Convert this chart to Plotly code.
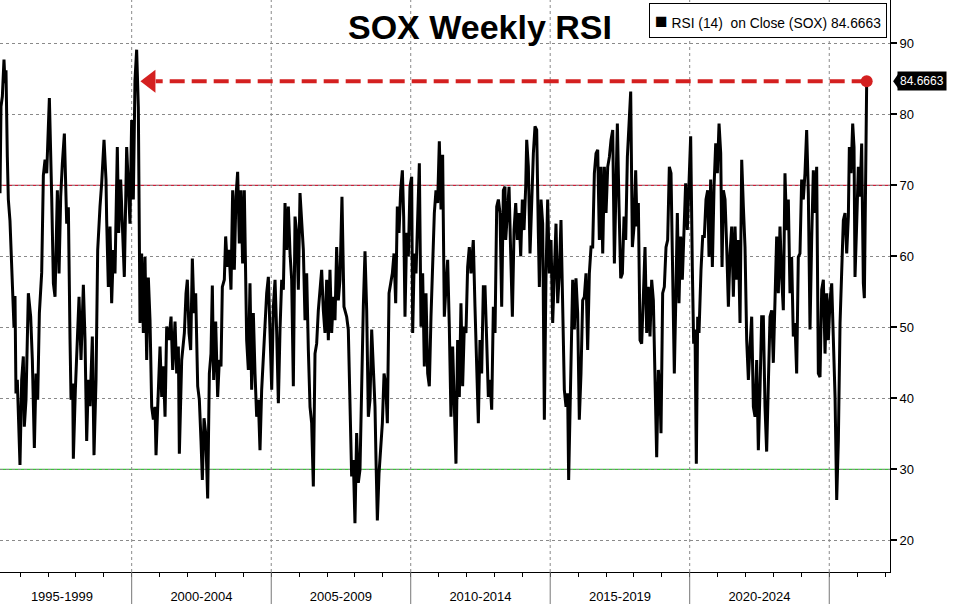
import plotly.graph_objects as go
from datetime import datetime

# ---------------- data ----------------
rsi_years = [
    1995.280, 1995.316, 1995.364, 1995.423, 1995.459, 1995.495, 1995.543, 1995.579, 1995.638, 1995.734,
    1995.782, 1995.818, 1995.853, 1995.901, 1995.937, 1995.997, 1996.057, 1996.116, 1996.152, 1996.212,
    1996.296, 1996.379, 1996.439, 1996.511, 1996.570, 1996.630, 1996.690, 1996.773, 1996.833, 1996.893,
    1996.953, 1997.048, 1997.132, 1997.192, 1997.251, 1997.335, 1997.395, 1997.454, 1997.514, 1997.586,
    1997.669, 1997.729, 1997.789, 1997.825, 1997.885, 1997.908, 1997.980, 1998.052, 1998.112, 1998.183,
    1998.267, 1998.327, 1998.386, 1998.446, 1998.506, 1998.589, 1998.649, 1998.721, 1998.781, 1998.864,
    1998.924, 1999.008, 1999.079, 1999.103, 1999.163, 1999.223, 1999.282, 1999.342, 1999.402, 1999.485,
    1999.533, 1999.605, 1999.665, 1999.736, 1999.820, 1999.880, 1999.939,
    1999.999, 2000.059, 2000.118, 2000.178, 2000.238, 2000.274, 2000.298, 2000.357, 2000.417, 2000.477,
    2000.537, 2000.596, 2000.656, 2000.716, 2000.776, 2000.835, 2000.871, 2000.931, 2001.014, 2001.074,
    2001.134, 2001.194, 2001.253, 2001.337, 2001.409, 2001.468, 2001.552, 2001.612, 2001.672, 2001.707,
    2001.791, 2001.887, 2001.946, 2001.994, 2002.054, 2002.114, 2002.173, 2002.233, 2002.293, 2002.365,
    2002.424, 2002.484, 2002.532, 2002.592, 2002.651, 2002.723, 2002.783, 2002.842, 2002.890, 2002.938,
    2003.010, 2003.081, 2003.141, 2003.201, 2003.249, 2003.320, 2003.368, 2003.428, 2003.488, 2003.559,
    2003.619, 2003.679, 2003.738, 2003.798, 2003.858, 2003.918, 2003.977, 2004.037, 2004.121, 2004.181,
    2004.240, 2004.300, 2004.360, 2004.420,
    2004.479, 2004.539, 2004.598, 2004.658, 2004.718, 2004.778, 2004.837, 2004.897, 2004.957, 2005.017,
    2005.076, 2005.136, 2005.196, 2005.256, 2005.315, 2005.375, 2005.435, 2005.494, 2005.554, 2005.614,
    2005.674, 2005.733, 2005.793, 2005.853, 2005.913, 2005.972, 2006.032, 2006.092, 2006.152, 2006.211,
    2006.271, 2006.331, 2006.391, 2006.450, 2006.510, 2006.570, 2006.629, 2006.689, 2006.749, 2006.809,
    2006.868, 2006.928, 2006.988, 2007.048, 2007.107, 2007.167, 2007.227, 2007.287, 2007.346, 2007.406,
    2007.466, 2007.537, 2007.609, 2007.705, 2007.764, 2007.824, 2007.884, 2007.944, 2008.003, 2008.063,
    2008.123, 2008.183, 2008.242, 2008.302, 2008.362, 2008.422, 2008.481, 2008.541, 2008.601, 2008.661,
    2008.720,
    2008.756, 2008.804, 2008.863, 2008.923, 2008.983, 2009.043, 2009.102, 2009.162, 2009.222, 2009.282,
    2009.341, 2009.401, 2009.461, 2009.520, 2009.580, 2009.640, 2009.700, 2009.747, 2009.795, 2009.855,
    2009.915, 2009.974, 2010.034, 2010.070, 2010.130, 2010.190, 2010.249, 2010.309, 2010.369, 2010.428,
    2010.488, 2010.548, 2010.608, 2010.667, 2010.727, 2010.787, 2010.847, 2010.906, 2010.966, 2011.026,
    2011.086, 2011.145, 2011.205, 2011.265, 2011.325, 2011.384, 2011.444, 2011.504, 2011.563, 2011.623,
    2011.683, 2011.743, 2011.802, 2011.862, 2011.922, 2011.982, 2012.041, 2012.101, 2012.161, 2012.244,
    2012.304, 2012.364, 2012.424, 2012.483, 2012.543, 2012.603, 2012.663, 2012.722, 2012.782, 2012.842,
    2012.902, 2012.961, 2013.021, 2013.081, 2013.141, 2013.200, 2013.260, 2013.320, 2013.379,
    2013.404, 2013.464, 2013.524, 2013.583, 2013.643, 2013.703, 2013.763, 2013.822, 2013.882, 2013.942,
    2014.001, 2014.061, 2014.121, 2014.157, 2014.217, 2014.276, 2014.336, 2014.396, 2014.455, 2014.515,
    2014.575, 2014.611, 2014.671, 2014.730, 2014.790, 2014.850, 2014.909, 2014.969, 2015.029, 2015.089,
    2015.148, 2015.208, 2015.268, 2015.328, 2015.387, 2015.447, 2015.507, 2015.567, 2015.626, 2015.662,
    2015.710, 2015.770, 2015.806, 2015.865, 2015.925, 2015.985, 2016.044, 2016.104, 2016.164, 2016.224,
    2016.283, 2016.343, 2016.403, 2016.463, 2016.522, 2016.582, 2016.642, 2016.702, 2016.761, 2016.821,
    2016.881, 2016.940, 2017.000, 2017.060, 2017.120, 2017.179, 2017.239, 2017.299, 2017.359, 2017.406,
    2017.466, 2017.526, 2017.586, 2017.645, 2017.705, 2017.765,
    2017.884, 2017.944, 2018.004, 2018.063, 2018.111, 2018.159, 2018.219, 2018.278, 2018.338, 2018.398,
    2018.458, 2018.517, 2018.577, 2018.637, 2018.697, 2018.756, 2018.816, 2018.876, 2018.935, 2018.971,
    2019.031, 2019.091, 2019.151, 2019.210, 2019.270, 2019.330, 2019.389, 2019.449, 2019.497, 2019.557,
    2019.616, 2019.676, 2019.736, 2019.796, 2019.855, 2019.915, 2019.975, 2020.035, 2020.094, 2020.142,
    2020.190, 2020.238, 2020.286, 2020.333, 2020.405, 2020.465, 2020.524, 2020.584, 2020.644, 2020.692,
    2020.751, 2020.811, 2020.871, 2020.931, 2020.990, 2021.050, 2021.110, 2021.158, 2021.205, 2021.265,
    2021.325, 2021.385, 2021.444, 2021.504, 2021.564, 2021.624, 2021.683, 2021.743, 2021.803, 2021.863,
    2021.922, 2021.982, 2022.042, 2022.102, 2022.161, 2022.221, 2022.281, 2022.341,
    2022.400, 2022.460, 2022.519, 2022.579, 2022.639, 2022.699, 2022.758, 2022.818, 2022.878, 2022.938,
    2022.997, 2023.057, 2023.117, 2023.177, 2023.236, 2023.296, 2023.356, 2023.415, 2023.475, 2023.535,
    2023.595, 2023.654, 2023.714, 2023.774, 2023.834, 2023.893, 2023.953, 2024.013, 2024.073, 2024.132,
    2024.192, 2024.252, 2024.312, 2024.371, 2024.431, 2024.491, 2024.550, 2024.610, 2024.670, 2024.730,
    2024.789, 2024.849, 2024.909, 2024.969, 2025.028, 2025.088, 2025.148, 2025.208, 2025.267, 2025.327,
    2025.387, 2025.446, 2025.506, 2025.566, 2025.626, 2025.685, 2025.721, 2025.781, 2025.841, 2025.889,
    2025.924, 2025.984, 2026.044, 2026.104, 2026.163, 2026.223, 2026.259, 2026.343,
]

rsi_values = [
    68.9, 81.1, 82.5, 87.7, 84.4, 86.2, 74.0, 68.0, 65.0, 54.8,
    50.0, 54.4, 40.7, 42.6, 36.5, 30.6, 42.6, 45.9, 36.0, 39.8,
    54.8, 51.5, 45.4, 33.0, 43.5, 39.8, 52.0, 57.7, 71.4, 73.6,
    71.7, 82.3, 68.3, 56.2, 54.3, 69.3, 57.6, 68.4, 73.1, 77.3,
    64.6, 66.9, 48.2, 39.8, 42.1, 31.5, 41.2, 48.2, 54.3, 45.4,
    56.0, 48.2, 34.0, 42.6, 38.9, 48.7, 32.0, 42.6, 60.9, 67.0,
    70.3, 76.4, 70.8, 65.1, 55.7, 64.2, 53.4, 60.9, 57.6, 75.4,
    63.3, 70.8, 63.3, 57.1, 75.4, 69.8, 64.6,
    79.2, 68.0, 84.8, 89.1, 81.0, 62.3, 50.6, 60.4, 49.2, 59.9,
    45.4, 57.0, 51.0, 38.8, 37.0, 38.8, 32.0, 38.8, 47.3, 40.2,
    44.5, 37.4, 50.1, 48.2, 51.5, 44.0, 50.8, 43.5, 47.3, 32.2,
    45.4, 49.2, 54.8, 56.7, 49.2, 46.8, 59.7, 52.0, 54.8, 41.7,
    39.8, 34.0, 28.5, 37.2, 35.1, 25.9, 43.5, 46.3, 55.9, 42.6,
    50.8, 40.2, 45.4, 44.5, 55.7, 56.7, 62.8, 58.5, 60.9, 55.3,
    69.3, 58.1, 68.4, 71.9, 61.8, 69.3, 59.0, 69.3, 48.2, 44.0,
    56.2, 41.2, 52.0, 43.5,
    37.4, 39.8, 32.7, 41.2, 45.4, 49.7, 54.8, 57.1, 50.6, 41.2,
    52.9, 56.7, 49.2, 39.3, 49.7, 56.7, 55.3, 67.5, 60.9, 67.0,
    60.4, 56.7, 41.7, 65.6, 63.3, 55.3, 68.9, 64.2, 60.9, 51.0,
    57.6, 46.8, 38.8, 36.5, 27.6, 46.3, 47.7, 52.4, 54.8, 58.1,
    52.4, 49.2, 56.7, 48.2, 58.1, 49.2, 54.3, 51.0, 61.3, 53.8,
    56.7, 68.4, 52.9, 51.5, 49.7, 36.5, 29.0, 31.3, 22.4, 35.1,
    28.1, 30.0, 43.5, 52.9, 60.7, 52.4, 37.4, 39.8, 49.7, 43.5,
    38.8,
    31.3, 22.8, 29.4, 33.7, 36.5, 43.5, 42.1, 36.5, 54.8, 56.2,
    57.6, 60.4, 53.4, 67.0, 63.3, 69.3, 72.1, 65.6, 51.5, 63.3,
    60.0, 69.8, 71.2, 49.2, 60.4, 57.6, 67.0, 73.1, 50.1, 57.6,
    44.5, 54.8, 43.5, 41.7, 51.5, 60.4, 66.1, 69.3, 67.5, 76.2,
    66.6, 74.3, 51.5, 55.7, 59.5, 50.1, 37.4, 47.3, 37.4, 30.8,
    48.2, 40.2, 53.4, 41.7, 50.1, 49.2, 58.5, 61.3, 57.6, 62.3,
    52.9, 43.5, 36.5, 48.2, 43.5, 55.7, 55.7, 48.2, 40.2, 42.6,
    38.4, 52.9, 49.2, 67.0, 68.0, 66.1, 52.9, 69.3, 69.8,
    62.3, 66.1, 69.8, 60.4, 51.5, 63.7, 67.5, 62.3, 66.1, 60.0,
    68.0, 63.7, 69.8, 76.4, 72.6, 60.4, 69.3, 74.5, 78.3, 77.8,
    63.3, 55.7, 68.0, 64.6, 37.0, 57.6, 68.0, 57.6, 62.3, 50.6,
    57.6, 64.6, 53.4, 57.6, 65.1, 54.8, 41.2, 38.8, 40.7, 28.5,
    36.5, 49.2, 56.7, 49.7, 56.9, 52.0, 37.0, 43.5, 53.8, 54.3,
    57.6, 46.8, 57.6, 61.3, 61.3, 71.7, 74.5, 75.0, 62.3, 72.6,
    60.4, 72.6, 66.1, 72.6, 74.0, 76.4, 77.8, 59.0, 72.6, 78.7,
    67.0, 56.9, 57.6, 65.6, 62.3, 74.0,
    83.2, 61.3, 64.2, 72.1, 64.2, 67.5, 48.2, 47.7, 54.3, 61.3,
    49.2, 55.7, 48.7, 56.7, 53.8, 43.5, 31.7, 44.0, 40.7, 35.1,
    54.8, 55.7, 61.3, 62.3, 72.6, 71.7, 55.7, 43.5, 52.9, 66.1,
    53.4, 62.8, 56.7, 63.3, 70.3, 63.7, 70.8, 76.9, 58.5, 47.7,
    49.7, 30.8, 51.5, 49.2, 58.1, 62.8, 62.8, 68.0, 69.3, 59.9,
    70.8, 58.5, 69.8, 75.9, 71.7, 78.7, 74.5, 58.5, 69.3, 68.0,
    61.3, 52.9, 60.4, 64.2, 54.3, 64.2, 56.7, 62.3, 50.6, 73.6,
    67.0, 61.3, 48.2, 42.6, 47.3, 51.5, 38.8, 37.4,
    45.4, 32.7, 41.2, 51.5, 51.5, 38.8, 32.5, 41.2, 51.5, 52.4,
    45.0, 53.8, 62.8, 54.8, 64.2, 57.1, 52.4, 71.7, 63.7, 68.0,
    54.8, 59.9, 48.7, 50.6, 43.5, 59.9, 60.4, 70.8, 68.0, 71.7,
    77.8, 68.9, 49.7, 62.3, 72.1, 66.1, 72.6, 43.5, 43.0, 55.3,
    56.7, 46.3, 54.8, 48.2, 53.8, 56.2, 49.2, 40.2, 25.7, 34.1,
    50.6, 57.6, 65.1, 66.1, 60.4, 65.6, 75.4, 71.7, 78.7, 75.4,
    57.1, 64.6, 72.6, 68.4, 75.9, 56.2, 54.1, 84.6663,
]

last_value = 84.6663
period_labels = ["1995-1999", "2000-2004", "2005-2009", "2010-2014", "2015-2019", "2020-2024"]
period_starts = [1995, 2000, 2005, 2010, 2015, 2020, 2025]
y_ticks = [20, 30, 40, 50, 60, 70, 80, 90]
overbought = 70
oversold = 30
title_text = "SOX Weekly RSI"
legend_text = "RSI (14)\u00a0\u00a0on Close (SOX) 84.6663"


def dec_to_date(y):
    yr = int(y)
    start = datetime(yr, 1, 1)
    end = datetime(yr + 1, 1, 1)
    return start + (end - start) * (y - yr)


dates = [dec_to_date(v) for v in rsi_years]
last_date = dates[-1]

# ---------------- styling constants ----------------
RED = "#d42020"
x_range = [dec_to_date(1995.280), dec_to_date(2027.179)]
y_range = [15.54, 96.10]
arrow_head_year = 2000.67
arrow_tail_year = 2000.86
FONT = "Liberation Sans"

fig = go.Figure()

# RSI line
fig.add_trace(go.Scatter(
    x=dates, y=rsi_values, mode="lines",
    line=dict(color="black", width=3), hoverinfo="skip", showlegend=False,
))

# dashed arrow from last value back to the 2000 peak
fig.add_trace(go.Scatter(
    x=[last_date, dec_to_date(arrow_tail_year)], y=[last_value, last_value],
    mode="lines", line=dict(color=RED, width=4, dash="15px,7px"),
    hoverinfo="skip", showlegend=False,
))
fig.add_trace(go.Scatter(
    x=[dec_to_date(arrow_head_year)], y=[last_value], mode="markers",
    marker=dict(symbol="triangle-left", size=20, color=RED, line=dict(width=0)),
    hoverinfo="skip", showlegend=False, cliponaxis=False,
))
fig.add_trace(go.Scatter(
    x=[last_date], y=[last_value], mode="markers",
    marker=dict(symbol="circle", size=12, color=RED, line=dict(width=0)),
    hoverinfo="skip", showlegend=False, cliponaxis=False,
))

shapes = []
# 70 / 30 reference lines
shapes.append(dict(type="line", xref="paper", x0=0, x1=1, yref="y", y0=overbought, y1=overbought,
                   line=dict(color="#cc1f3a", width=1.2), layer="below"))
shapes.append(dict(type="line", xref="paper", x0=0, x1=1, yref="y", y0=oversold, y1=oversold,
                   line=dict(color="#3cc43c", width=1.2), layer="below"))
# period separators (dotted in plot, solid below axis)
for yr in period_starts[1:]:
    d = dec_to_date(yr)
    shapes.append(dict(type="line", xref="x", x0=d, x1=d, yref="paper", y0=0, y1=1,
                       line=dict(color="#8a8a8a", width=1, dash="dot"), layer="below"))
    shapes.append(dict(type="line", xref="x", x0=d, x1=d, yref="paper", y0=0, y1=-0.06,
                       line=dict(color="#777777", width=1)))
# pointer of last-value badge
shapes.append(dict(type="path", xref="paper", yref="y",
                   path=f"M 1.0035,{last_value} L 1.0105,{last_value + 1.25} L 1.0105,{last_value - 1.25} Z",
                   fillcolor="black", line=dict(width=0)))

mid_ticks = [dec_to_date(s + 2.5) for s in period_starts[:-1]]
minor_ticks = [datetime(y, 1, 1) for y in range(1996, 2028)]

annotations = [
    dict(text=f"<b>{title_text}</b>", xref="paper", yref="paper", x=0.539, y=0.952,
         xanchor="center", yanchor="middle", showarrow=False,
         font=dict(family=FONT, size=34, color="black")),
    dict(text="<span style='font-size:21px'>\u25A0</span> " + legend_text,
         xref="paper", yref="paper", x=0.9966, y=0.9948, xanchor="right", yanchor="top",
         showarrow=False, bordercolor="black", borderwidth=1, borderpad=5, bgcolor="white",
         font=dict(family=FONT, size=13.8, color="black")),
    dict(text=f"{last_value:.4f}", xref="paper", yref="y", x=1, y=last_value,
         xanchor="left", yanchor="middle", xshift=7, showarrow=False,
         bgcolor="black", borderpad=2, font=dict(family=FONT, size=12, color="white")),
]

fig.update_layout(
    width=961, height=604,
    margin=dict(l=0, r=71, t=0, b=32),
    paper_bgcolor="white", plot_bgcolor="white",
    shapes=shapes, annotations=annotations,
    showlegend=False,
    xaxis=dict(
        type="date", range=x_range, tickmode="array", tickvals=mid_ticks, ticktext=period_labels,
        ticks="", showgrid=False, zeroline=False, showline=True, linecolor="black", linewidth=1,
        tickfont=dict(family=FONT, size=13, color="black"), ticklabelstandoff=12,
        minor=dict(tickmode="array", tickvals=minor_ticks, ticks="outside", ticklen=4,
                   tickcolor="black", tickwidth=1, showgrid=False),
    ),
    yaxis=dict(
        side="right", range=y_range, tickmode="array", tickvals=y_ticks,
        ticks="outside", ticklen=6, tickwidth=2, tickcolor="black",
        showgrid=True, gridcolor="#8a8a8a", griddash="dot", gridwidth=1,
        zeroline=False, showline=True, linecolor="black", linewidth=1,
        tickfont=dict(family=FONT, size=13, color="black"),
    ),
)

fig.write_html(
    "out.html",
    config={"displayModeBar": False},
    post_script="document.body.style.margin='0';document.body.style.overflow='hidden';",
)
